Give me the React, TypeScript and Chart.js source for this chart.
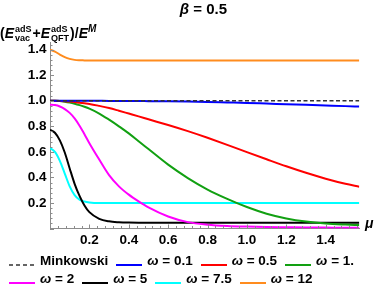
import React, { useEffect, useRef } from 'react';
import { Chart, registerables } from 'chart.js';

Chart.register(...registerables);

// ---------- data ----------
const muGrid = [0, 0.025, 0.05, 0.075, 0.1, 0.125, 0.15, 0.175, 0.2, 0.25, 0.3, 0.35, 0.4, 0.45, 0.5, 0.6, 0.7, 0.8, 0.9, 1.0, 1.1, 1.2, 1.3, 1.4, 1.5, 1.5708];

const minkowski = [1, 1, 1, 1, 1, 1, 1, 1, 1, 1, 1, 1, 1, 1, 1, 1, 1, 1, 1, 1, 1, 1, 1, 1, 1, 1];
const omega0p1 = [1, 1, 1, 1, 1, 1, 1, 1, 1, 0.9995, 0.999, 0.999, 0.998, 0.998, 0.997, 0.996, 0.994, 0.991, 0.987, 0.983, 0.978, 0.973, 0.968, 0.963, 0.958, 0.955];
const omega0p5 = [1, 1, 0.999, 0.997, 0.994, 0.99, 0.985, 0.98, 0.975, 0.96, 0.943, 0.922, 0.9, 0.878, 0.855, 0.81, 0.762, 0.71, 0.655, 0.598, 0.542, 0.487, 0.436, 0.39, 0.35, 0.327];
const omega1 = [1, 1, 0.998, 0.993, 0.986, 0.977, 0.966, 0.953, 0.938, 0.9, 0.852, 0.8, 0.745, 0.683, 0.622, 0.5, 0.395, 0.305, 0.232, 0.168, 0.116, 0.079, 0.054, 0.039, 0.031, 0.027];
const omega2 = [0.969, 0.966, 0.955, 0.935, 0.905, 0.862, 0.805, 0.738, 0.668, 0.54, 0.418, 0.33, 0.265, 0.212, 0.165, 0.094, 0.05, 0.03, 0.02, 0.015, 0.012, 0.01, 0.008, 0.007, 0.006, 0.006];
const omega5 = [0.773, 0.75, 0.69, 0.595, 0.47, 0.35, 0.255, 0.18, 0.128, 0.076, 0.056, 0.049, 0.046, 0.045, 0.045, 0.045, 0.045, 0.045, 0.045, 0.045, 0.045, 0.045, 0.045, 0.045, 0.045, 0.045];
const omega7p5 = [0.629, 0.6, 0.53, 0.43, 0.33, 0.262, 0.226, 0.211, 0.204, 0.2, 0.2, 0.2, 0.2, 0.2, 0.2, 0.2, 0.2, 0.2, 0.2, 0.2, 0.2, 0.2, 0.2, 0.2, 0.2, 0.2];
const omega12 = [1.4, 1.385, 1.362, 1.342, 1.328, 1.32, 1.317, 1.316, 1.315, 1.315, 1.315, 1.315, 1.315, 1.315, 1.315, 1.315, 1.315, 1.315, 1.315, 1.315, 1.315, 1.315, 1.315, 1.315, 1.315, 1.315];

const seriesLabels = ['Minkowski', 'ω = 0.1', 'ω = 0.5', 'ω = 1.', 'ω = 2', 'ω = 5', 'ω = 7.5', 'ω = 12'];
const seriesValues = [minkowski, omega0p1, omega0p5, omega1, omega2, omega5, omega7p5, omega12];

const xTickLabels = [0.2, 0.4, 0.6, 0.8, 1.0, 1.2, 1.4];
const yTickLabels = [0.2, 0.4, 0.6, 0.8, 1.0, 1.2, 1.4];
const xMin = 0;
const xMax = 1.5708;
const yMin = 0;
const yMax = 1.46;

// ---------- styles ----------
const FONT = '"Liberation Sans", Arial, Helvetica, sans-serif';
const AXIS = '#8c8c8c';
const seriesColors = ['#333333', '#0000ff', '#ff0000', '#12a012', '#ff00ff', '#000000', '#00ffff', '#ff8c1e'];
const seriesDash: number[][] = [[4, 2.5], [], [], [], [], [], [], []];
const seriesWidth = [1.4, 2, 2, 2, 2, 2, 2, 2];

const tickPlugin = {
  id: 'mmaTicks',
  afterDraw(chart: any) {
    const { ctx, chartArea } = chart;
    const xs = chart.scales.x;
    const ys = chart.scales.y;
    ctx.save();
    ctx.strokeStyle = AXIS;
    ctx.lineWidth = 1;
    ctx.beginPath();
    for (let i = 0; i * 0.04 <= xMax + 1e-9; i++) {
      const v = i * 0.04;
      const len = i % 5 === 0 ? 4 : 2.5;
      const px = Math.round(xs.getPixelForValue(v)) + 0.5;
      ctx.moveTo(px, chartArea.bottom);
      ctx.lineTo(px, chartArea.bottom - len);
    }
    for (let i = 0; i * 0.04 <= yMax + 1e-9; i++) {
      const v = i * 0.04;
      const len = i % 5 === 0 ? 4 : 2.5;
      const py = Math.round(ys.getPixelForValue(v)) + 0.5;
      ctx.moveTo(chartArea.left, py);
      ctx.lineTo(chartArea.left + len, py);
    }
    ctx.stroke();
    ctx.restore();
  },
};

const SupSub = ({ sup, sub }: { sup: string; sub: string }) => (
  <span style={{ display: 'inline-block', verticalAlign: '-3px', fontSize: 9, lineHeight: '9px', marginLeft: 1, marginRight: 1 }}>
    <span style={{ display: 'block' }}>{sup}</span>
    <span style={{ display: 'block' }}>{sub}</span>
  </span>
);

const LegendText = ({ text }: { text: string }) =>
  text.startsWith('ω') ? (
    <span>
      <i>ω</i>
      {text.slice(1)}
    </span>
  ) : (
    <span>{text}</span>
  );

const LegendRow = ({ idx, top }: { idx: number[]; top: number }) => (
  <div
    style={{
      position: 'absolute',
      left: 9,
      top,
      height: 18,
      display: 'flex',
      alignItems: 'center',
      fontSize: 13.5,
      fontWeight: 'bold',
      lineHeight: '18px',
      whiteSpace: 'nowrap',
    }}
  >
    {idx.map((i) => (
      <div key={i} style={{ display: 'flex', alignItems: 'center', marginRight: 8 }}>
        <svg width={26} height={4} style={{ position: 'relative', top: 3.5, marginRight: 5 }}>
          <line
            x1={0}
            y1={2}
            x2={26}
            y2={2}
            stroke={seriesColors[i]}
            strokeWidth={i === 0 ? 1.5 : 2}
            strokeDasharray={i === 0 ? '4 3' : undefined}
          />
        </svg>
        <LegendText text={seriesLabels[i]} />
      </div>
    ))}
  </div>
);

export default function App() {
  const ref = useRef<HTMLCanvasElement>(null);

  useEffect(() => {
    document.body.style.margin = '0';
    const tickFont = { family: FONT, size: 13.5, weight: 'bold' as const };
    const chart = new Chart(ref.current as HTMLCanvasElement, {
      type: 'line',
      data: {
        datasets: seriesValues.map((vals, s) => ({
          label: seriesLabels[s],
          data: muGrid.map((m, i) => ({ x: m, y: vals[i] })),
          borderColor: seriesColors[s],
          backgroundColor: seriesColors[s],
          borderWidth: seriesWidth[s],
          borderDash: seriesDash[s],
          pointRadius: 0,
          fill: false,
          cubicInterpolationMode: 'monotone' as const,
        })),
      },
      options: {
        responsive: false,
        animation: false,
        devicePixelRatio: 1,
        layout: { padding: { top: 42, right: 14.7, bottom: 0, left: 0 } },
        plugins: {
          legend: { display: false },
          title: { display: false },
          tooltip: { enabled: false },
        },
        scales: {
          x: {
            type: 'linear',
            min: xMin,
            max: xMax,
            afterBuildTicks: (s: any) => {
              s.ticks = xTickLabels.map((v) => ({ value: v }));
            },
            afterFit: (s: any) => {
              s.height = 58.5;
            },
            grid: { display: false, drawTicks: false },
            border: { display: true, color: AXIS, width: 1 },
            ticks: {
              font: tickFont,
              color: '#000',
              padding: 4,
              autoSkip: false,
              maxRotation: 0,
              callback: (v: any) => Number(v).toFixed(1),
            },
          },
          y: {
            type: 'linear',
            min: yMin,
            max: yMax,
            afterBuildTicks: (s: any) => {
              s.ticks = yTickLabels.map((v) => ({ value: v }));
            },
            afterFit: (s: any) => {
              s.width = 50;
            },
            grid: { display: false, drawTicks: false },
            border: { display: true, color: AXIS, width: 1 },
            ticks: {
              font: tickFont,
              color: '#000',
              padding: 3.5,
              autoSkip: false,
              callback: (v: any) => Number(v).toFixed(1),
            },
          },
        },
      },
      plugins: [tickPlugin],
    });
    return () => chart.destroy();
  }, []);

  return (
    <div style={{ position: 'relative', width: 374, height: 287, fontFamily: FONT, color: '#000', overflow: 'hidden' }}>
      <canvas ref={ref} width={374} height={287} style={{ position: 'absolute', left: 0, top: 0, width: 374, height: 287 }} />
      <div
        style={{
          position: 'absolute',
          left: 203.5,
          top: 1.3,
          transform: 'translateX(-50%)',
          fontSize: 15,
          fontWeight: 'bold',
          lineHeight: '15px',
          whiteSpace: 'nowrap',
        }}
      >
        <i>β</i> = 0.5
      </div>
      <div
        style={{
          position: 'absolute',
          left: 0,
          top: 13.5,
          fontSize: 14,
          fontWeight: 'bold',
          lineHeight: '30px',
          whiteSpace: 'nowrap',
        }}
      >
        (<i>E</i>
        <SupSub sup="adS" sub="vac" />+<i>E</i>
        <SupSub sup="adS" sub="QFT" />)/<i>E</i>
        <span style={{ fontSize: 10, fontStyle: 'italic', verticalAlign: '6px' }}>M</span>
      </div>
      <div
        style={{
          position: 'absolute',
          left: 365,
          top: 215.6,
          fontSize: 14,
          fontWeight: 'bold',
          fontStyle: 'italic',
          lineHeight: '14px',
        }}
      >
        μ
      </div>
      <LegendRow idx={[0, 1, 2, 3]} top={252} />
      <LegendRow idx={[4, 5, 6, 7]} top={270} />
    </div>
  );
}
